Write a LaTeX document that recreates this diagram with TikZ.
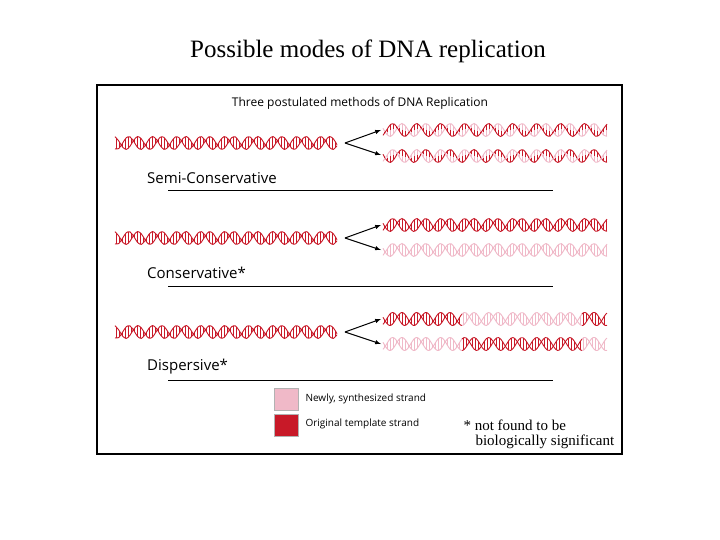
\documentclass[tikz,border=0pt]{standalone}
\usepackage{fontspec}
\setmainfont{Liberation Serif}
\newfontfamily\lab{Open Sans}
\definecolor{dk}{RGB}{200,25,40}
\definecolor{lt}{RGB}{240,185,200}
\newcommand\hseg[5]{% x0,x1,y,colA,colB
  \draw[#4,line width=0.9pt] plot[domain=#1:#2,samples=60,smooth] (\x,{#3+6.5*sin(15*\x)});
  \draw[#5,line width=0.9pt] plot[domain=#1:#2,samples=60,smooth] (\x,{#3+6.5*sin(15*\x+140)});
  \pgfmathtruncatemacro\nn{(#2-#1-1.5)/3}
  \foreach \k in {0,...,\nn}{
    \pgfmathsetmacro\r{#1+1.5+3*\k}
    \pgfmathsetmacro\ya{#3+6.5*sin(15*\r)}
    \pgfmathsetmacro\yb{#3+6.5*sin(15*\r+140)}
    \pgfmathsetmacro\ym{0.5*(\ya+\yb)}
    \draw[#4,line width=0.5pt] (\r,\ya) -- (\r,\ym);
    \draw[#5,line width=0.5pt] (\r,\ym) -- (\r,\yb);
  }}
\tikzset{arr/.style={-latex,line width=1pt,black},
  lbl/.style={font=\lab\fontsize{15}{15}\selectfont,anchor=west,inner sep=0},
  rule/.style={line width=1pt}}
\begin{document}
\begin{tikzpicture}[x=1pt,y=-1pt]
\useasboundingbox[fill=white] (0,0) rectangle (720,540);
\node[font=\fontsize{25}{25}\selectfont] (title) at (368,51) {Possible modes of DNA replication};
\draw[line width=1.3pt] (97,85) rectangle (622,454);
\node[font=\lab\fontsize{12}{12}\selectfont] (sub) at (360,103) {Three postulated methods of DNA Replication};
% rows
\foreach \y/\n in {143/1,238/2,332/3}{
  \hseg{115}{337}{\y}{dk}{dk}
  \coordinate (s\n) at (345,\y);
  \coordinate (t\n) at (381,{\y-13});
  \coordinate (b\n) at (381,{\y+12});
  \draw[arr] (s\n) -- (t\n);
  \draw[arr] (s\n) -- (b\n);
}
% semi-conservative
\hseg{383}{607}{130}{lt}{dk}
\hseg{383}{607}{156}{dk}{lt}
% conservative
\hseg{383}{607}{225}{dk}{dk}
\hseg{383}{607}{250}{lt}{lt}
% dispersive
\hseg{383}{462}{319}{dk}{dk}
\hseg{462}{582}{319}{lt}{lt}
\hseg{582}{607}{319}{dk}{dk}
\hseg{383}{462}{344}{lt}{lt}
\hseg{462}{582}{344}{dk}{dk}
\hseg{582}{607}{344}{lt}{lt}
\node[lbl] (n1) at (147,178) {Semi-Conservative};
\node[lbl] (n2) at (147,273) {Conservative*};
\node[lbl] (n3) at (147,367) {Dispersive*};
\draw[rule] (168,191) -- (553,191);
\draw[rule] (168,286) -- (553,286);
\draw[rule] (168,380) -- (553,380);
\node[draw=gray!60,fill=lt,minimum width=24,minimum height=22,inner sep=0] (k1) at (286,399) {};
\node[draw=gray!60,fill=dk,minimum width=24,minimum height=22,inner sep=0] (k2) at (286,425) {};
\node[font=\lab\fontsize{10}{10}\selectfont,anchor=west] (l1) at (302,399) {Newly, synthesized strand};
\node[font=\lab\fontsize{10}{10}\selectfont,anchor=west] (l2) at (302,424) {Original template strand};
\node[font=\fontsize{15}{15}\selectfont,anchor=west] (f1) at (460,425) {* not found to be};
\node[font=\fontsize{15}{15}\selectfont,anchor=west] (f2) at (472,442) {biologically significant};
\end{tikzpicture}
\end{document}
